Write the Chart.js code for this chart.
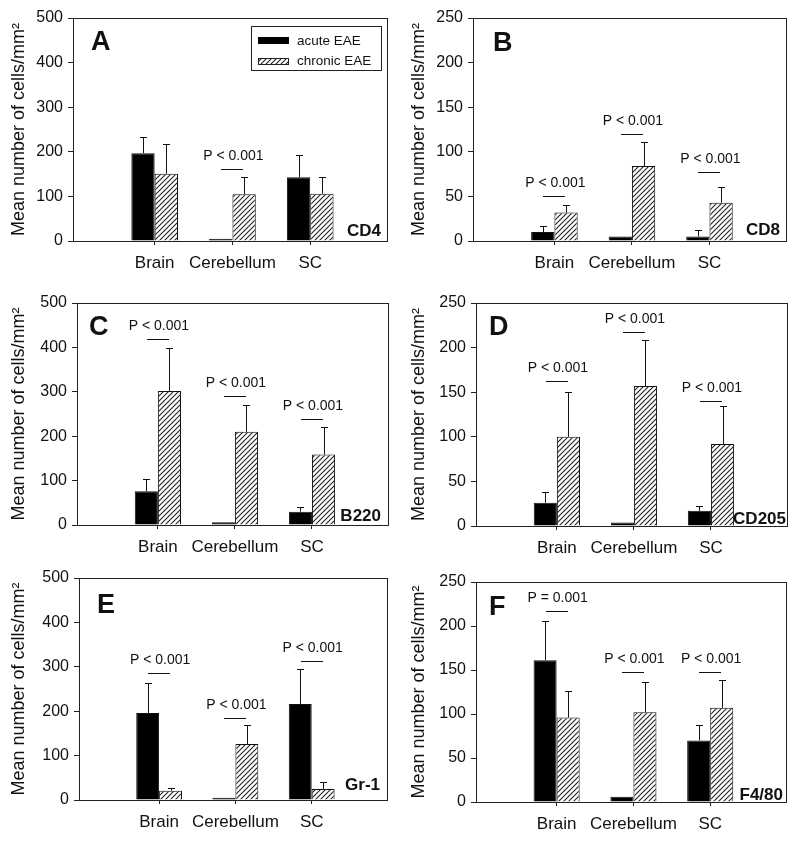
<!DOCTYPE html>
<html>
<head>
<meta charset="utf-8">
<script src="https://cdn.jsdelivr.net/npm/chart.js@4"></script>
<style>
  body { margin: 0; background: #fff; }
  #wrap { position: relative; width: 800px; height: 841px; background: #fff; }
  .panel { position: absolute; width: 400px; height: 280px; }
</style>
</head>
<body>
<div id="wrap">
  <div class="panel" style="left:0;top:0"><canvas id="pA" width="400" height="280"></canvas></div>
  <div class="panel" style="left:400px;top:0"><canvas id="pB" width="400" height="280"></canvas></div>
  <div class="panel" style="left:0;top:280px"><canvas id="pC" width="400" height="280"></canvas></div>
  <div class="panel" style="left:400px;top:280px"><canvas id="pD" width="400" height="280"></canvas></div>
  <div class="panel" style="left:0;top:560px"><canvas id="pE" width="400" height="280"></canvas></div>
  <div class="panel" style="left:400px;top:560px"><canvas id="pF" width="400" height="280"></canvas></div>
</div>
<script>
// values (mean, SD upward only)
var regions = ['Brain', 'Cerebellum', 'SC'];
var seriesNames = ['acute EAE', 'chronic EAE'];

var cd4Acute = [197, 5, 143],  cd4AcuteSd = [36, 0, 49];
var cd4Chronic = [151, 105, 106], cd4ChronicSd = [66, 38, 37];
var cd4P = [null, 162, null];

var cd8Acute = [10, 5, 5],  cd8AcuteSd = [7, 0, 7];
var cd8Chronic = [32, 84, 43], cd8ChronicSd = [8, 27, 18];
var cd8P = [51, 120, 77];

var b220Acute = [76, 6, 30],  b220AcuteSd = [27, 0, 11];
var b220Chronic = [302, 210, 159], b220ChronicSd = [97, 60, 62];
var b220P = [418, 290, 238];

var cd205Acute = [26, 4, 17],  cd205AcuteSd = [12.5, 0, 5.5];
var cd205Chronic = [100, 157, 92], cd205ChronicSd = [50, 51, 43];
var cd205P = [162, 218, 140];

var gr1Acute = [196, 5, 216],  gr1AcuteSd = [67, 0, 80];
var gr1Chronic = [21, 126, 25], gr1ChronicSd = [7, 42, 15];
var gr1P = [286, 184, 314];

var f480Acute = [161, 6, 70],  f480AcuteSd = [45, 0, 18];
var f480Chronic = [96, 102, 107], f480ChronicSd = [30, 34, 32];
var f480P = [217, 148, 148];

var pLess = ['P < 0.001', 'P < 0.001', 'P < 0.001'];
var pF = ['P = 0.001', 'P < 0.001', 'P < 0.001'];

var yTicks500 = [0, 100, 200, 300, 400, 500];
var yTicks250 = [0, 50, 100, 150, 200, 250];

var FONT = "'Liberation Sans', Arial, Helvetica, sans-serif";
var INK = '#111';

Chart.defaults.font.family = FONT;
Chart.defaults.color = INK;

function makeHatch() {
  var c = document.createElement('canvas');
  c.width = 5; c.height = 5;
  var g = c.getContext('2d');
  g.fillStyle = '#fff';
  g.fillRect(0, 0, 5, 5);
  g.strokeStyle = '#222';
  g.lineWidth = 1.1;
  g.beginPath();
  g.moveTo(-1, 6); g.lineTo(6, -1);
  g.moveTo(-1, 1); g.lineTo(1, -1);
  g.moveTo(4, 6); g.lineTo(6, 4);
  g.stroke();
  return g.createPattern(c, 'repeat');
}

// box = plot area [left, top, right, bottom] inside the 400x280 canvas
var panels = [
  { id: 'pA', letter: 'A', marker: 'CD4', ticks: yTicks500, acute: cd4Acute, acuteSd: cd4AcuteSd,
    chronic: cd4Chronic, chronicSd: cd4ChronicSd, pLevel: cd4P, pText: pLess,
    box: [73, 18, 388, 241], letterAt: [18, 32], markerAt: [7, 5], legend: true },
  { id: 'pB', letter: 'B', marker: 'CD8', ticks: yTicks250, acute: cd8Acute, acuteSd: cd8AcuteSd,
    chronic: cd8Chronic, chronicSd: cd8ChronicSd, pLevel: cd8P, pText: pLess,
    box: [73, 18, 387, 241], letterAt: [20, 33], markerAt: [7, 6] },
  { id: 'pC', letter: 'C', marker: 'B220', ticks: yTicks500, acute: b220Acute, acuteSd: b220AcuteSd,
    chronic: b220Chronic, chronicSd: b220ChronicSd, pLevel: b220P, pText: pLess,
    box: [77, 23, 389, 245], letterAt: [12, 32], markerAt: [8, 4] },
  { id: 'pD', letter: 'D', marker: 'CD205', ticks: yTicks250, acute: cd205Acute, acuteSd: cd205AcuteSd,
    chronic: cd205Chronic, chronicSd: cd205ChronicSd, pLevel: cd205P, pText: pLess,
    box: [76, 23, 388, 246], letterAt: [13, 32], markerAt: [2, 2] },
  { id: 'pE', letter: 'E', marker: 'Gr-1', ticks: yTicks500, acute: gr1Acute, acuteSd: gr1AcuteSd,
    chronic: gr1Chronic, chronicSd: gr1ChronicSd, pLevel: gr1P, pText: pLess,
    box: [79, 18, 388, 240], letterAt: [18, 35], markerAt: [8, 10] },
  { id: 'pF', letter: 'F', marker: 'F4/80', ticks: yTicks250, acute: f480Acute, acuteSd: f480AcuteSd,
    chronic: f480Chronic, chronicSd: f480ChronicSd, pLevel: f480P, pText: pF,
    box: [76, 22, 387, 242], letterAt: [13, 33], markerAt: [4, 2] }
];

var hatch = makeHatch();

function toPoints(values) {
  return values.map(function(v, i) { return { x: i + 1, y: v }; });
}

var extrasPlugin = {
  id: 'extras',
  afterDatasetsDraw: function(chart) {
    var p = chart.config.options.panel;
    var ctx = chart.ctx;
    var xs = chart.scales.x, ys = chart.scales.y;
    var sds = [p.acuteSd, p.chronicSd];
    var means = [p.acute, p.chronic];
    ctx.save();
    ctx.strokeStyle = INK;
    ctx.lineWidth = 1;

    // error bars (upward only)
    for (var d = 0; d < 2; d++) {
      var meta = chart.getDatasetMeta(d);
      meta.data.forEach(function(bar, j) {
        var sd = sds[d][j];
        if (!sd) return;
        var x = Math.round(bar.x) + 0.5;
        var top = Math.round(ys.getPixelForValue(means[d][j] + sd)) + 0.5;
        ctx.beginPath();
        ctx.moveTo(x, bar.y);
        ctx.lineTo(x, top);
        ctx.moveTo(x - 3.5, top);
        ctx.lineTo(x + 3.5, top);
        ctx.stroke();
      });
    }

    // significance marks
    ctx.fillStyle = INK;
    ctx.font = '14px ' + FONT;
    ctx.textAlign = 'center';
    ctx.textBaseline = 'alphabetic';
    p.pLevel.forEach(function(level, j) {
      if (level == null) return;
      var cx = xs.getPixelForValue(j + 1);
      var py = Math.round(ys.getPixelForValue(level)) + 0.5;
      ctx.beginPath();
      ctx.moveTo(Math.round(cx - 11), py);
      ctx.lineTo(Math.round(cx + 11), py);
      ctx.stroke();
      ctx.fillText(p.pText[j], cx + 1, py - 10);
    });
    ctx.restore();
  },
  afterDraw: function(chart) {
    var p = chart.config.options.panel;
    var a = chart.chartArea;
    var ctx = chart.ctx;
    ctx.save();
    ctx.strokeStyle = '#222';
    ctx.lineWidth = 1;
    ctx.strokeRect(Math.round(a.left) + 0.5, Math.round(a.top) + 0.5,
                   Math.round(a.right - a.left) - 1, Math.round(a.bottom - a.top));

    ctx.fillStyle = INK;
    ctx.font = 'bold 27px ' + FONT;
    ctx.textAlign = 'left';
    ctx.textBaseline = 'alphabetic';
    ctx.fillText(p.letter, a.left + p.letterAt[0], a.top + p.letterAt[1]);

    ctx.font = 'bold 17px ' + FONT;
    ctx.textAlign = 'right';
    ctx.fillText(p.marker, a.right - p.markerAt[0], a.bottom - p.markerAt[1]);

    if (p.legend) {
      ctx.strokeRect(251.5, 26.5, 130, 44);
      ctx.fillStyle = '#000';
      ctx.fillRect(258, 37, 31, 7);
      ctx.fillStyle = hatch;
      ctx.fillRect(258, 58, 31, 7);
      ctx.strokeRect(258.5, 58.5, 30, 6);
      ctx.fillStyle = INK;
      ctx.font = '13.5px ' + FONT;
      ctx.textAlign = 'left';
      ctx.textBaseline = 'middle';
      ctx.fillText(seriesNames[0], 297, 41);
      ctx.fillText(seriesNames[1], 297, 61);
    }
    ctx.restore();
  }
};

panels.forEach(function(p) {
  var yMax = p.ticks[p.ticks.length - 1];
  var step = p.ticks[1] - p.ticks[0];
  new Chart(document.getElementById(p.id), {
    type: 'bar',
    data: {
      datasets: [
        { label: seriesNames[0], data: toPoints(p.acute), backgroundColor: '#000',
          borderColor: INK, borderWidth: 1 },
        { label: seriesNames[1], data: toPoints(p.chronic), backgroundColor: hatch,
          borderColor: INK, borderWidth: 1 }
      ]
    },
    options: {
      panel: p,
      responsive: false,
      devicePixelRatio: 1,
      animation: false,
      events: [],
      categoryPercentage: 0.6,
      barPercentage: 1.0,
      layout: { padding: { left: 8, top: p.box[1], right: 400 - p.box[2], bottom: 0 } },
      plugins: { legend: { display: false }, tooltip: { enabled: false } },
      scales: {
        x: {
          type: 'linear',
          min: -0.05,
          max: 4.0,
          offset: false,
          afterBuildTicks: function(s) {
            s.ticks = regions.map(function(r, i) { return { value: i + 1 }; });
          },
          afterFit: function(s) { s.height = 280 - p.box[3]; },
          border: { display: false },
          grid: { offset: false, drawOnChartArea: false, drawTicks: true, tickLength: 4, color: '#222' },
          ticks: {
            autoSkip: false, maxRotation: 0, minRotation: 0, padding: 8,
            font: { size: 17 }, color: INK,
            callback: function(v) { return regions[v - 1] || ''; }
          }
        },
        y: {
          min: 0,
          max: yMax,
          afterFit: function(s) { s.width = p.box[0] - 8; },
          border: { display: false },
          grid: { drawOnChartArea: false, drawTicks: true, tickLength: 5, color: '#222' },
          ticks: { stepSize: step, padding: 5, font: { size: 16 }, color: INK },
          title: {
            display: true, text: 'Mean number of cells/mm²', padding: 0,
            font: { size: 18 }, color: INK
          }
        }
      }
    },
    plugins: [extrasPlugin]
  });
});
</script>
</body>
</html>
